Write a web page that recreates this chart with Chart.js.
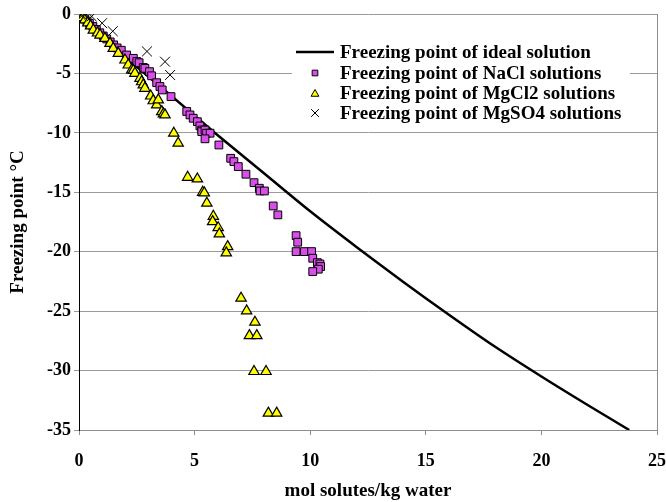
<!DOCTYPE html>
<html>
<head>
<meta charset="utf-8">
<script src="https://cdn.jsdelivr.net/npm/chart.js@4"></script>
<style>
  html, body { margin: 0; padding: 0; background: #fff; }
  #wrap { width: 666px; height: 502px; }
</style>
</head>
<body>
<div id="wrap"><canvas id="fpChart" width="666" height="502"></canvas></div>
<script>
// values: mol solutes/kg water -> freezing point (°C)
const idealX = [0, 2, 4, 6, 8, 10, 12, 14, 16, 18, 20, 22, 23.8];
const idealY = [0, -3.6, -6.9, -10.2, -13.4, -16.6, -19.6, -22.5, -25.3, -28.0, -30.5, -32.9, -35.0];

const naclX = [0.03, 0.08, 0.15, 0.25, 0.35, 0.45, 0.6, 0.75, 0.9, 1.05, 1.2, 1.35, 1.5, 1.65, 1.83, 2.06, 2.35, 2.5, 2.6, 2.78, 2.85, 3.05, 3.14, 3.36, 3.5, 3.6, 3.98, 4.66, 4.8, 4.94, 5.12, 5.23, 5.31, 5.31, 5.45, 5.52, 5.67, 5.45, 6.05, 6.56, 6.7, 6.89, 7.22, 7.57, 7.8, 7.83, 8.02, 8.4, 8.6, 9.39, 9.46, 9.39, 9.75, 10.06, 10.11, 10.31, 10.42, 10.45, 10.35, 10.11];
const naclY = [-0.05, -0.12, -0.25, -0.42, -0.6, -0.78, -1.05, -1.3, -1.58, -1.85, -2.1, -2.35, -2.6, -2.85, -3.05, -3.45, -3.73, -4.0, -4.1, -4.5, -4.57, -4.85, -5.2, -5.78, -6.1, -6.39, -6.95, -8.2, -8.49, -8.77, -9.06, -9.42, -9.76, -9.9, -9.76, -10.03, -10.03, -10.5, -11.02, -12.14, -12.42, -12.84, -13.48, -14.19, -14.66, -14.89, -14.89, -16.15, -16.9, -18.65, -19.2, -19.99, -19.99, -19.99, -20.55, -20.92, -21.03, -21.25, -21.47, -21.67];

const mgcl2X = [0.05, 0.15, 0.25, 0.38, 0.5, 0.62, 0.8, 0.91, 1.12, 1.34, 1.48, 1.7, 1.99, 2.13, 2.28, 2.35, 2.42, 2.64, 2.71, 2.78, 2.85, 3.1, 3.21, 3.36, 3.43, 3.58, 3.65, 3.72, 4.1, 4.29, 4.7, 5.12, 5.35, 5.42, 5.53, 5.81, 5.78, 6.02, 6.07, 6.43, 6.37, 7.01, 7.25, 7.61, 7.37, 7.69, 7.57, 8.09, 8.19, 8.55];
const mgcl2Y = [-0.1, -0.3, -0.5, -0.75, -1.0, -1.35, -1.6, -1.77, -2.05, -2.47, -2.89, -3.31, -3.87, -4.29, -4.71, -4.75, -4.99, -5.41, -5.7, -5.97, -6.25, -6.9, -7.3, -7.65, -7.23, -8.21, -8.4, -8.49, -10.03, -10.87, -13.74, -13.88, -15.0, -15.05, -15.92, -17.02, -17.47, -17.98, -18.5, -19.57, -20.1, -23.91, -24.98, -25.93, -27.06, -27.06, -30.08, -30.08, -33.58, -33.58];

const mgso4X = [0.05, 0.15, 0.55, 1.0, 1.46, 2.94, 3.72, 3.94];
const mgso4Y = [-0.05, -0.1, -0.2, -0.77, -1.45, -3.15, -4.01, -5.13];

const xTicks = [0, 5, 10, 15, 20, 25];
const yTicks = [0, -5, -10, -15, -20, -25, -30, -35];

const legendLabels = [
  'Freezing point of ideal solution',
  'Freezing point of NaCl solutions',
  'Freezing point of MgCl2 solutions',
  'Freezing point of MgSO4 solutions'
];

function toPoints(xs, ys) {
  return xs.map((x, i) => ({ x: x, y: ys[i] }));
}

const serif = "'Liberation Serif', 'Times New Roman', serif";
const pink = '#d84ee8';
const yellow = '#ffff00';

// plot frame + legend drawn on the canvas
const framePlugin = {
  id: 'frame',
  beforeDatasetsDraw(chart) {
    const a = chart.chartArea;
    const ctx = chart.ctx;
    ctx.save();
    ctx.strokeStyle = '#8c8c8c';
    ctx.lineWidth = 1;
    ctx.beginPath();
    ctx.moveTo(Math.round(a.right) + 0.5, a.top);
    ctx.lineTo(Math.round(a.right) + 0.5, a.bottom);
    ctx.stroke();
    ctx.restore();
  },
  afterDraw(chart) {
    const ctx = chart.ctx;
    ctx.save();
    ctx.fillStyle = '#fff';
    ctx.fillRect(292, 42, 338, 82);
    ctx.font = 'bold 19px ' + serif;
    ctx.textBaseline = 'middle';
    ctx.fillStyle = '#000';
    const rows = [52, 73, 93, 113];
    legendLabels.forEach((t, i) => {
      ctx.fillText(t, 340, rows[i] + 1);
    });
    // line sample
    ctx.strokeStyle = '#000';
    ctx.lineWidth = 2.5;
    ctx.beginPath();
    ctx.moveTo(296, rows[0]);
    ctx.lineTo(334, rows[0]);
    ctx.stroke();
    const h = Chart.helpers;
    ctx.lineWidth = 1;
    ctx.fillStyle = pink;
    h.drawPoint(ctx, { pointStyle: 'rect', radius: 4, borderWidth: 1 }, 315, rows[1]);
    ctx.fillStyle = yellow;
    h.drawPoint(ctx, { pointStyle: 'triangle', radius: 4.5, borderWidth: 1 }, 315, rows[2] + 1);
    h.drawPoint(ctx, { pointStyle: 'crossRot', radius: 5.5, borderWidth: 1 }, 315, rows[3]);
    ctx.restore();
  }
};

const ctx = document.getElementById('fpChart').getContext('2d');
new Chart(ctx, {
  type: 'scatter',
  data: {
    datasets: [
      {
        label: legendLabels[0],
        type: 'line',
        data: toPoints(idealX, idealY),
        borderColor: '#000',
        borderWidth: 2.5,
        pointRadius: 0,
        fill: false,
        tension: 0.3,
        order: 10
      },
      {
        label: legendLabels[1],
        data: toPoints(naclX, naclY),
        pointStyle: 'rect',
        pointRadius: 5.5,
        backgroundColor: pink,
        borderColor: '#000',
        borderWidth: 1,
        order: 3
      },
      {
        label: legendLabels[2],
        data: toPoints(mgcl2X, mgcl2Y),
        pointStyle: 'triangle',
        pointRadius: 6,
        backgroundColor: yellow,
        borderColor: '#000',
        borderWidth: 1.2,
        order: 2
      },
      {
        label: legendLabels[3],
        data: toPoints(mgso4X, mgso4Y),
        pointStyle: 'crossRot',
        pointRadius: 7,
        backgroundColor: '#000',
        borderColor: '#000',
        borderWidth: 1,
        order: 1
      }
    ]
  },
  options: {
    responsive: false,
    animation: false,
    layout: { padding: { top: 14, right: 9, left: 0, bottom: 0 } },
    plugins: {
      legend: { display: false },
      tooltip: { enabled: false }
    },
    scales: {
      x: {
        type: 'linear',
        min: 0,
        max: 25,
        afterBuildTicks: s => { s.ticks = xTicks.map(v => ({ value: v })); },
        afterFit: s => { s.height = 72; s.paddingLeft = 0; s.paddingRight = 0; },
        grid: { drawOnChartArea: false, drawTicks: true, tickLength: 5, color: '#8c8c8c' },
        border: { color: '#8c8c8c', width: 1 },
        ticks: { color: '#000', padding: 16, font: { family: serif, size: 18, weight: 'bold' } },
        title: {
          display: true,
          text: 'mol solutes/kg water',
          color: '#000',
          padding: { top: 0, bottom: 0 },
          font: { family: serif, size: 19, weight: 'bold' }
        }
      },
      y: {
        type: 'linear',
        min: -35,
        max: 0,
        afterBuildTicks: s => { s.ticks = yTicks.map(v => ({ value: v })); },
        afterFit: s => { s.width = 79; },
        grid: { color: '#9a9a9a', lineWidth: 1, drawTicks: true, tickLength: 5 },
        border: { color: '#000', width: 1 },
        ticks: { color: '#000', padding: 3, font: { family: serif, size: 18, weight: 'bold' } },
        title: {
          display: true,
          text: 'Freezing point °C',
          color: '#000',
          padding: { top: 7, bottom: 0 },
          font: { family: serif, size: 19, weight: 'bold' }
        }
      }
    }
  },
  plugins: [framePlugin]
});
</script>
</body>
</html>
